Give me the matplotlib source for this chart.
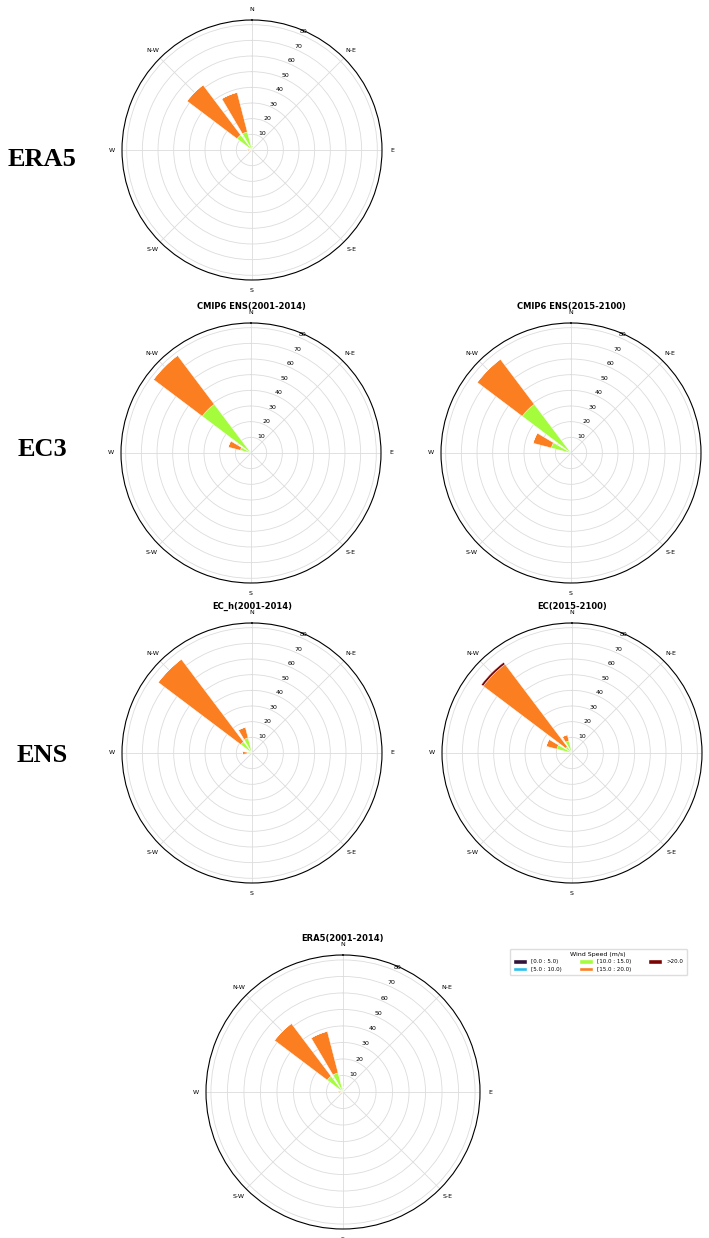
import numpy as np
import matplotlib.pyplot as plt
from matplotlib.patches import Patch

# 16 compass sectors, clockwise from north
sectors = ['N', 'NNE', 'NE', 'ENE', 'E', 'ESE', 'SE', 'SSE',
           'S', 'SSW', 'SW', 'WSW', 'W', 'WNW', 'NW', 'NNW']
sector_deg = [0, 22.5, 45, 67.5, 90, 112.5, 135, 157.5,
              180, 202.5, 225, 247.5, 270, 292.5, 315, 337.5]

compass_labels = ['N', 'N-E', 'E', 'S-E', 'S', 'S-W', 'W', 'N-W']
speed_bins = ['[0.0 : 5.0)', '[5.0 : 10.0)', '[10.0 : 15.0)', '[15.0 : 20.0)', '>20.0']
radii = [10, 20, 30, 40, 50, 60, 70, 80]

# frequency (%) per sector, one row per speed bin
#         N    NNE  NE ENE E ESE SE SSE S SSW SW WSW  W   WNW   NW    NNW
era5 = [
    [0,   0,   0, 0, 0, 0, 0, 0, 0, 0, 0, 0,   0,   0,   0.5,  0.5],
    [0,   0,   0, 0, 0, 0, 0, 0, 0, 0, 0, 0,   0,   0,   0.5,  0.5],
    [3,   1.5, 0, 0, 0, 0, 0, 0, 0, 0, 0, 0.5, 1.5, 2,   11,   11],
    [0,   0,   0, 0, 0, 0, 0, 0, 0, 0, 0, 1,   1.5, 0,   40,   26],
    [0,   0,   0, 0, 0, 0, 0, 0, 0, 0, 0, 0,   0,   0,   0,    0],
]
cmip6_hist = [
    [0,   0,   0, 0, 0, 0, 0, 0, 0, 0, 0, 0,   0,   0,   0.5,  0],
    [0,   0,   0, 0, 0, 0, 0, 0, 0, 0, 0, 0,   0,   0.5, 0.5,  0],
    [0,   0,   0, 0, 0, 0, 0, 0, 0, 0, 0, 0,   0,   6.5, 38,   0],
    [0,   0,   0, 0, 0, 0, 0, 0, 0, 0, 0, 0,   0,   8,   39,   0],
    [0,   0,   0, 0, 0, 0, 0, 0, 0, 0, 0, 0,   0,   0,   0,    0],
]
cmip6_future = [
    [0,   0,   0, 0, 0, 0, 0, 0, 0, 0, 0, 0,   0,   0,   0.5,  0],
    [0,   0,   0, 0, 0, 0, 0, 0, 0, 0, 0, 0,   0,   0.5, 0.5,  0],
    [0,   0,   0, 0, 0, 0, 0, 0, 0, 0, 0, 0,   0,   12.5, 38,  0],
    [0,   0,   0, 0, 0, 0, 0, 0, 0, 0, 0, 0,   0,   12,  36,   0],
    [0,   0,   0, 0, 0, 0, 0, 0, 0, 0, 0, 0,   0,   0,   0,    0],
]
ec_hist = [
    [0,   0,   0, 0, 0, 0, 0, 0, 0, 0, 0, 0,   0,   0,   0,    0],
    [0,   0,   0, 0, 0, 0, 0, 0, 0, 0, 0, 0,   0,   0,   0,    0],
    [0.5, 0,   0, 0, 0, 0, 0, 0, 0, 0, 0, 0,   3,   0,   9,    10],
    [0,   0,   0, 0, 0, 0, 0, 0, 0, 0, 0, 0,   3,   0,   66,   7],
    [0,   0,   0, 0, 0, 0, 0, 0, 0, 0, 0, 0,   0,   0,   0,    0],
]
ec_future = [
    [0,   0,   0, 0, 0, 0, 0, 0, 0, 0, 0, 0,   0,   0,   0,    0],
    [0,   0,   0, 0, 0, 0, 0, 0, 0, 0, 0, 0,   0,   0,   0,    0],
    [0,   0,   0, 0, 0, 0, 0, 0, 0, 0, 0, 0,   0,   10,  5,    8],
    [0,   0,   0, 0, 0, 0, 0, 0, 0, 0, 0, 0,   0,   7,   66,   4],
    [0,   0,   0, 0, 0, 0, 0, 0, 0, 0, 0, 0,   0,   0,   1.5,  0],
]

colors = plt.cm.turbo(np.linspace(0, 1, len(speed_bins)))

W, H = 709, 1238
fig = plt.figure(figsize=(W / 100, H / 100), dpi=100)


def add_rose(cx, cy, r, data, title=None):
    # polar axes placed by its centre and radius in pixels
    ax = fig.add_axes([(cx - r) / W, 1 - (cy + r) / H, 2 * r / W, 2 * r / H],
                      projection='polar')
    ax.set_theta_zero_location('N')
    ax.set_theta_direction(-1)
    theta = np.deg2rad(sector_deg)
    bottom = np.zeros(len(sectors))
    for vals, c in zip(data, colors):
        vals = np.array(vals, dtype=float)
        ax.bar(theta, vals, width=np.deg2rad(16), bottom=bottom,
               color=c, edgecolor='white', linewidth=0.3, zorder=2)
        bottom += vals
    ax.set_ylim(0, 83)
    ax.set_xticks(np.deg2rad(np.arange(0, 360, 45)))
    ax.set_xticklabels(compass_labels, fontsize=4.5)
    ax.set_yticks(radii)
    ax.set_yticklabels([str(v) for v in radii], fontsize=4.5)
    ax.set_rlabel_position(22.5)
    ax.tick_params(axis='x', pad=-3)
    ax.grid(color='#dcdcdc', linewidth=0.6)
    ax.spines['polar'].set_linewidth(0.8)
    if title:
        ax.set_title(title, fontsize=6, fontweight='bold', y=1.0, pad=10)
    return ax


add_rose(252, 150, 130, era5)
add_rose(251, 453, 130, cmip6_hist, 'CMIP6 ENS(2001-2014)')
add_rose(571, 453, 130, cmip6_future, 'CMIP6 ENS(2015-2100)')
add_rose(252, 753, 130, ec_hist, 'EC_h(2001-2014)')
add_rose(572, 753, 130, ec_future, 'EC(2015-2100)')
add_rose(343, 1092, 137, era5, 'ERA5(2001-2014)')

# row labels
for label, y in [('ERA5', 160), ('EC3', 449), ('ENS', 755)]:
    fig.text(42 / W, 1 - y / H, label, fontfamily='Liberation Serif',
             fontweight='bold', fontsize=19, ha='center', va='center')

handles = [Patch(facecolor=c, edgecolor='white') for c in colors]
fig.legend(handles, speed_bins, title='Wind Speed (m/s)', ncol=3,
           fontsize=4, title_fontsize=4.5, loc='upper left',
           bbox_to_anchor=(507 / W, 1 - 946 / H), handlelength=2.5,
           handleheight=0.8, columnspacing=3, borderpad=0.6, labelspacing=0.4,
           framealpha=1, edgecolor='#dddddd')

plt.savefig('out.png', dpi=100)
